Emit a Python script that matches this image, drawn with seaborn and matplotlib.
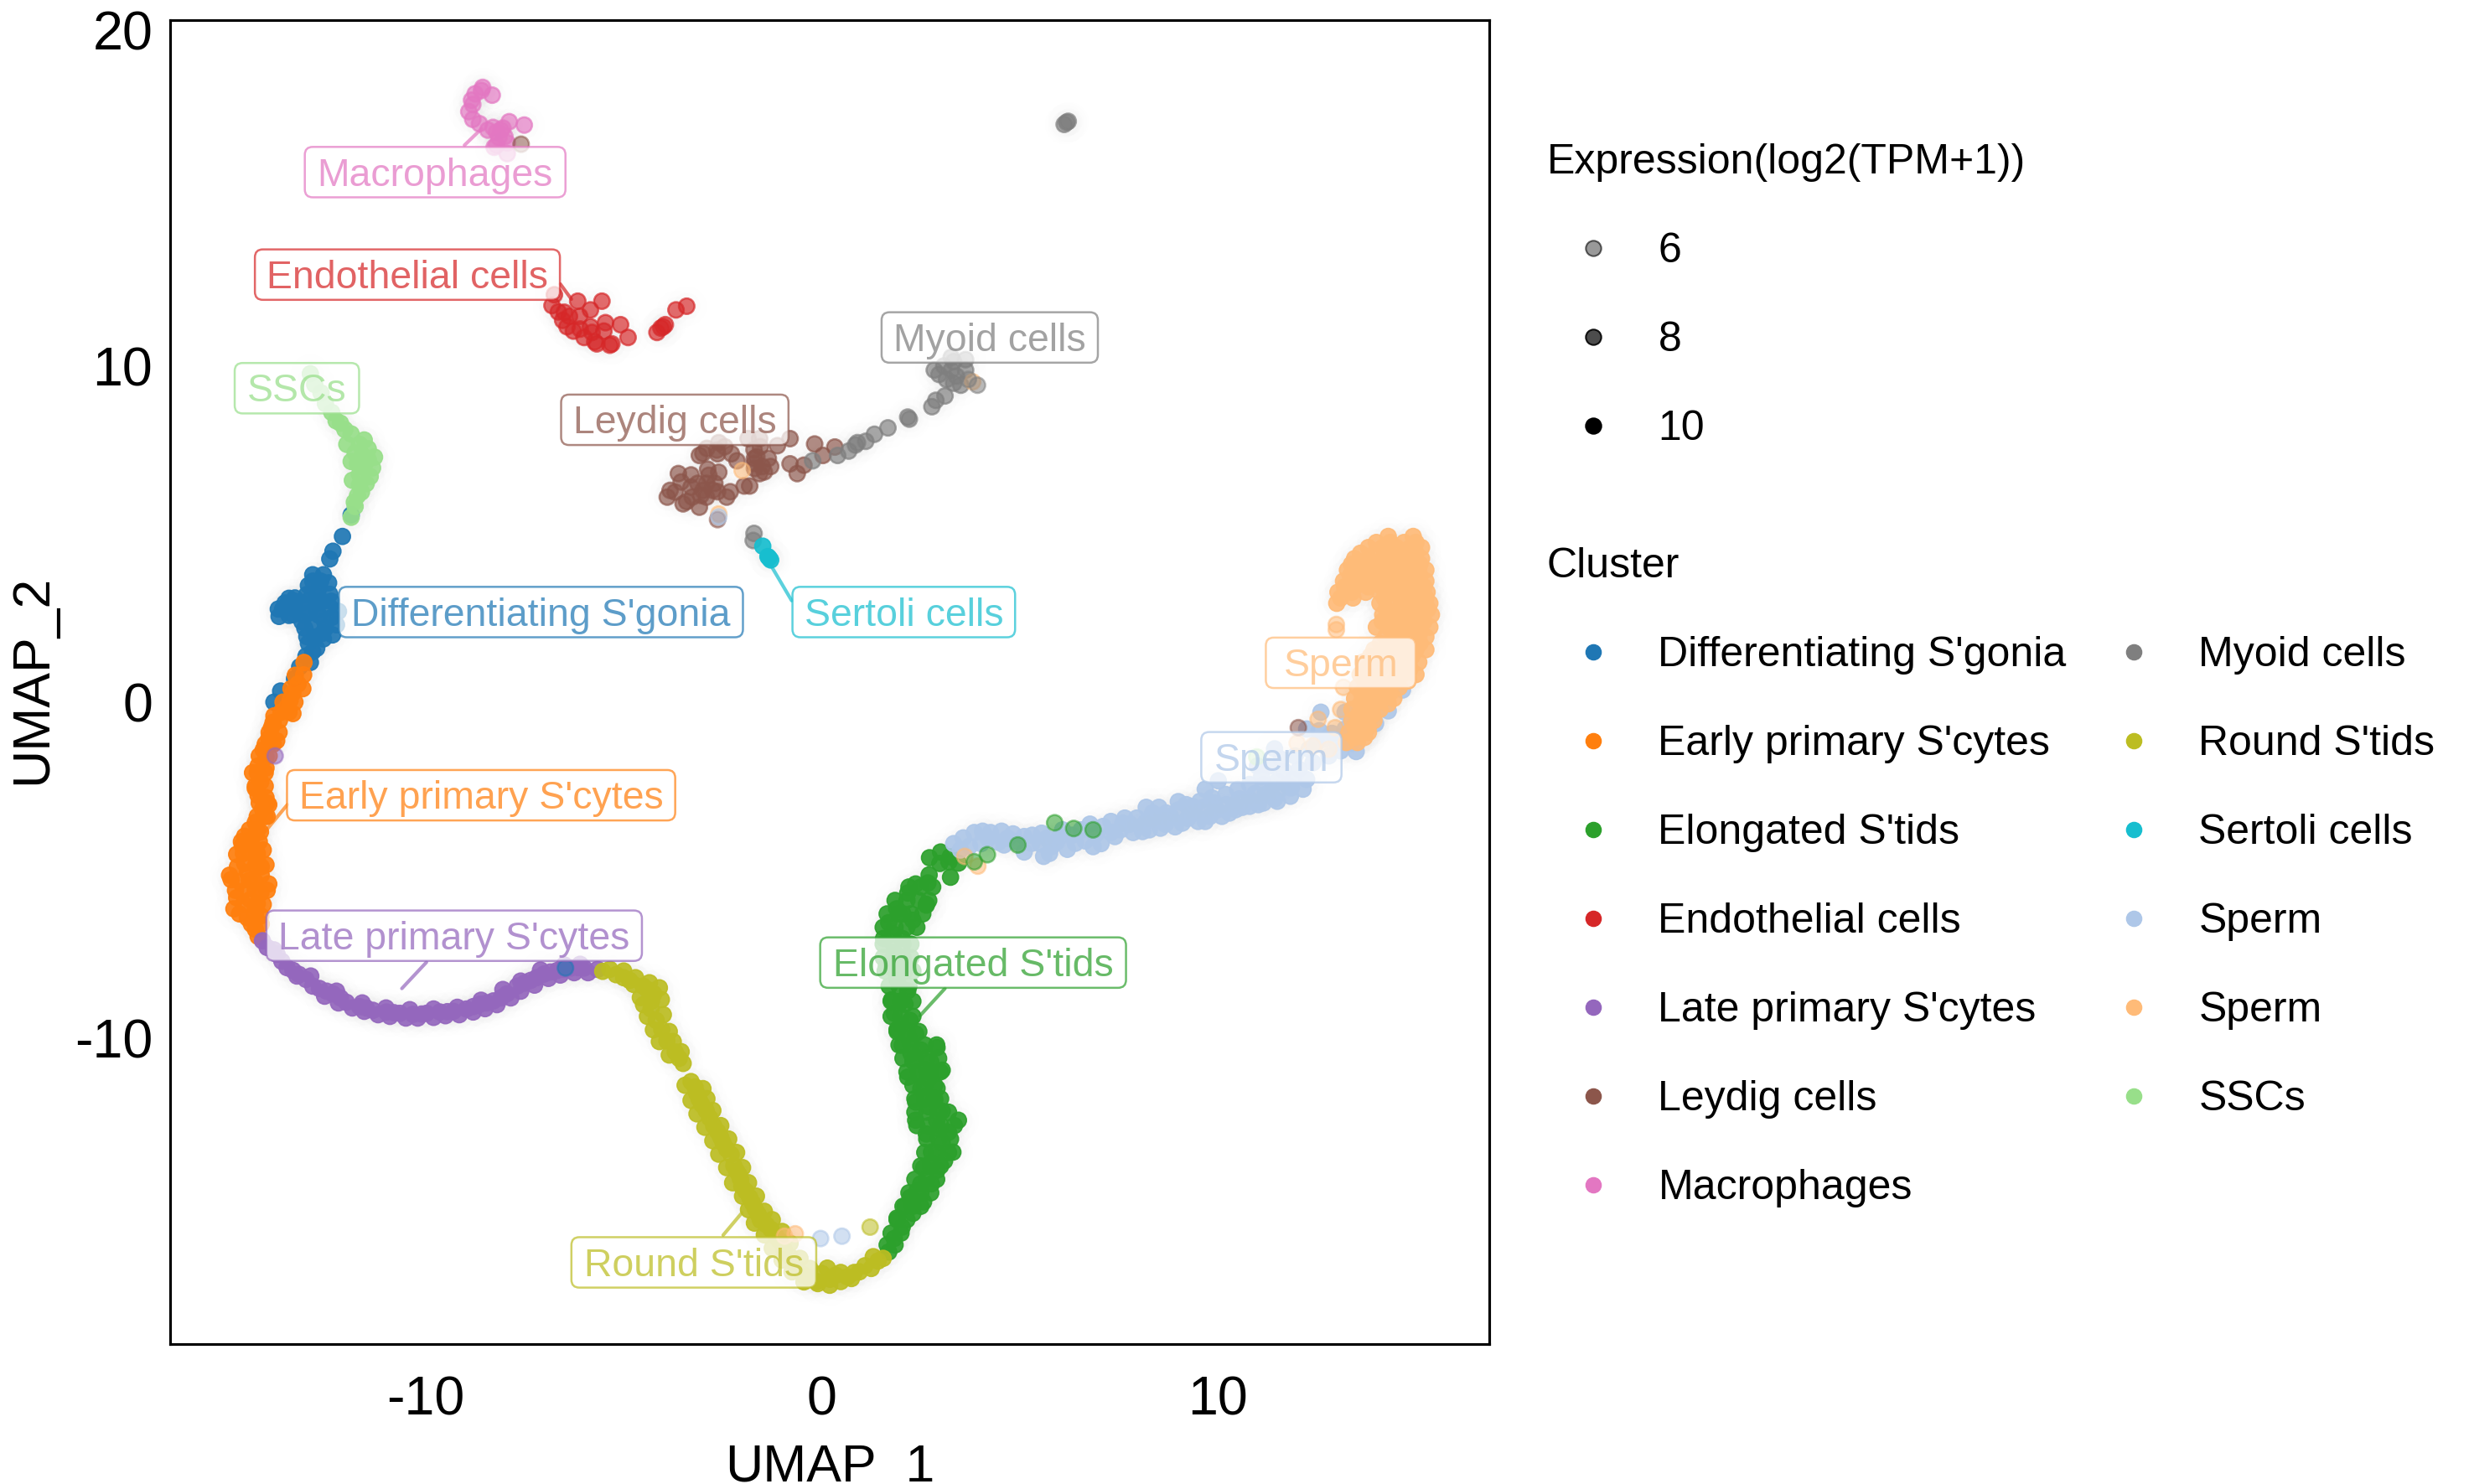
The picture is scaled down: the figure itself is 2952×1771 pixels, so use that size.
import matplotlib
matplotlib.use("Agg")
import matplotlib.pyplot as plt
from matplotlib.lines import Line2D
from matplotlib.patches import FancyBboxPatch
from matplotlib.colors import to_rgba
import pandas as pd
import seaborn as sns

sns.set_theme(style="white")
plt.rcParams['font.family'] = ['Liberation Sans', 'DejaVu Sans']
plt.rcParams['text.color'] = 'black'
plt.rcParams['axes.unicode_minus'] = False

cluster_names = ["Differentiating S'gonia", "Early primary S'cytes", "Elongated S'tids", "Endothelial cells",
                 "Late primary S'cytes", "Leydig cells", "Macrophages", "Myoid cells", "Round S'tids",
                 "Sertoli cells", "Sperm", "Sperm ", "SSCs"]
cluster_colors = ["#1f77b4", "#ff7f0e", "#2ca02c", "#d62728", "#9467bd", "#8c564b", "#e377c2", "#7f7f7f",
                  "#bcbd22", "#17becf", "#aec7e8", "#ffbb78", "#98df8a"]

macrophages = [(-8.56,18.29),(-8.32,18.06),(-8.75,18.10),(-8.81,17.78),(-8.91,17.57),(-8.81,17.34),(-8.64,17.21),
    (-8.43,17.02),(-8.21,16.96),(-8.05,17.08),(-7.89,17.27),(-7.51,17.17),(-8.0,16.83),(-8.21,16.57),(-7.94,16.64),
    (-7.94,16.32),(-8.27,16.51),(-8.1,17.02),(-8.59,18.2),(-8.84,17.91),(-8.15,16.8),(-8.3,17.1)]
endothelial = [(-6.75,12.12),(-6.81,11.80),(-6.65,11.61),(-6.54,11.36),(-6.43,11.17),(-6.27,11.04),(-6.0,10.85),
    (-5.73,10.72),(-5.35,10.62),(-4.89,10.85),(-5.08,11.23),(-5.46,11.29),(-5.5,11.04),(-5.84,11.17),(-6.16,11.93),
    (-5.55,11.93),(-5.84,11.67),(-6.11,11.48),(-6.37,11.48),(-5.68,10.66),(-5.3,10.66),(-4.16,11.0),(-4.06,11.13),
    (-3.95,11.23),(-3.68,11.67),(-3.41,11.78),(-4.0,11.17),(-6.5,11.6),(-6.1,11.1),(-5.8,11.0)]
sscs = [(-12.91,9.77),(-12.8,9.45),(-12.64,9.2),(-12.53,8.88),(-12.37,8.62),(-12.26,8.37),(-12.15,8.30),(-12.04,8.11),
    (-11.88,7.98),(-11.99,7.67),(-11.67,7.67),(-11.45,7.54),(-11.78,7.41),(-11.45,7.22),(-11.72,7.09),(-11.34,6.97),
    (-11.67,6.78),(-11.40,6.71),(-11.67,6.46),(-11.72,6.14),(-11.78,5.82),(-11.88,5.5),(-11.29,7.29),(-11.56,6.97),
    (-11.88,7.16),(-11.6,7.35),(-11.55,7.8),(-11.5,6.5),(-11.85,6.6),(-11.8,5.95),(-11.62,6.25)]
sgonia = [(-11.88,5.57),(-12.1,4.93),(-12.34,4.49),(-12.42,4.26),(-12.85,3.79),(-12.58,3.79),(-12.96,3.47),(-12.69,3.40),
    (-12.42,3.21),(-13.45,3.09),(-13.61,2.77),(-13.29,2.77),(-13.45,2.58),(-13.72,2.77),(-12.96,3.02),(-12.75,2.96),
    (-12.42,2.83),(-12.96,2.64),(-12.69,2.58),(-12.37,2.52),(-13.12,2.39),(-12.85,2.26),(-12.53,2.2),(-12.8,1.94),
    (-12.96,1.75),(-12.58,1.88),(-13.02,1.37),(-12.91,1.18),(-13.18,1.05),(-13.31,0.70),(-13.83,0.0),(-13.66,0.33),
    (-13.15,2.95),(-13.05,2.2),(-12.75,2.75),(-12.55,2.4),(-12.75,3.15),(-12.6,3.0),(-12.75,1.6),(-12.38,3.0),
    (-12.2,2.7),(-12.25,2.3),(-12.85,3.6),(-13.0,3.2),(-13.1,2.6),(-13.3,3.1),(-12.6,2.05),
    (-13.55,2.95),(-13.35,2.6),(-13.7,2.55),(-13.5,2.9),(-13.3,3.0),(-12.35,2.0),(-12.85,1.5),(-13.0,1.95),(-12.45,3.55),(-12.65,3.6)]
early = [(-13.07,1.18),(-13.29,0.80),(-13.08,0.81),(-13.22,0.54),(-13.35,0.27),(-13.42,0.06),(-13.49,-0.14),(-13.35,-0.34),
    (-13.83,-0.41),(-13.69,-0.54),(-13.89,-0.75),(-13.96,-1.08),(-13.76,-1.15),(-14.1,-1.42),(-14.03,-1.63),(-14.23,-1.90),
    (-14.03,-1.96),(-14.37,-2.1),(-14.16,-2.37),(-14.3,-2.57),(-14.23,-2.78),(-14.03,-2.84),(-13.96,-3.05),(-14.12,-3.18),
    (-14.3,-3.58),(-14.17,-3.86),(-14.57,-3.99),(-14.63,-4.26),(-14.77,-4.53),(-14.43,-4.46),(-14.1,-4.40),(-14.03,-4.84),
    (-14.57,-4.80),(-14.3,-4.87),(-14.5,-5.07),(-14.91,-5.28),(-14.7,-5.34),(-14.3,-5.34),(-13.96,-5.41),(-14.5,-5.55),
    (-14.16,-5.68),(-14.77,-5.82),(-14.43,-5.88),(-14.84,-6.15),(-14.1,-6.02),(-14.5,-6.42),(-14.16,-6.36),(-14.3,-6.76),
    (-14.23,-6.97),(-14.4,-4.1),(-14.25,-4.65),(-14.45,-5.3),(-14.3,-6.1),(-14.0,-3.4),
    (-13.4,0.4),(-13.1,0.4),(-13.6,0.0),(-13.3,0.0),(-13.65,-0.3),(-13.45,-0.3),(-13.85,-0.6),(-13.95,-0.9),(-13.7,-0.9),
    (-14.05,-1.25),(-13.85,-1.25),(-14.2,-1.6),(-13.95,-1.6),(-14.25,-2.1),(-14.05,-2.1),(-14.3,-2.5),(-14.05,-2.5),
    (-14.2,-3.0),(-14.0,-3.0),(-14.25,-3.4),(-14.05,-3.4),(-14.45,-3.8),(-14.25,-3.8),(-14.65,-4.15),(-14.4,-4.15),(-14.2,-4.15),
    (-14.6,-4.5),(-14.25,-4.5),(-14.75,-4.9),(-14.15,-4.9),(-14.95,-5.15),(-14.15,-5.15),(-14.8,-5.6),(-14.3,-5.6),(-14.0,-5.6),
    (-14.6,-6.0),(-14.25,-6.0),(-14.7,-6.3),(-14.3,-6.3),(-14.4,-6.6),(-14.15,-6.6)]
late = [(-14.12,-7.10),(-13.83,-7.37),(-13.63,-7.71),(-13.35,-7.98),(-13.02,-8.25),(-12.68,-8.52),(-12.34,-8.68),(-12.0,-8.93),
    (-11.67,-9.06),(-11.33,-9.17),(-10.99,-9.22),(-10.65,-9.26),(-10.32,-9.29),(-9.98,-9.26),(-9.64,-9.22),(-9.3,-9.2),
    (-8.97,-9.13),(-8.63,-8.99),(-8.29,-8.89),(-7.95,-8.68),(-7.69,-8.45),(-7.35,-8.28),(-7.01,-8.09),(-6.67,-7.98),
    (-6.33,-7.91),(-6.0,-7.91),(-5.66,-7.95),(-13.2,-8.1),(-12.5,-8.6),(-12.15,-8.8),(-11.5,-9.1),(-10.8,-9.24),(-10.1,-9.28),
    (-9.45,-9.21),(-8.8,-9.06),(-8.45,-8.95),(-8.1,-8.8),(-7.5,-8.36),(-7.2,-8.2),(-6.85,-8.03),(-6.5,-7.95),(-6.15,-7.9),
    (-14.0,-7.3),(-13.75,-7.5),(-13.5,-7.9),(-13.25,-8.15),(-12.85,-8.45),(-12.55,-8.75),(-12.2,-8.95),(-11.85,-9.1),(-11.55,-9.2),
    (-11.2,-9.3),(-10.9,-9.35),(-10.5,-9.4),(-10.2,-9.4),(-9.8,-9.38),(-9.5,-9.33),(-9.15,-9.3),(-8.8,-9.22),(-8.5,-9.12),(-8.2,-9.0),
    (-7.85,-8.8),(-7.6,-8.6),(-7.25,-8.42),(-6.9,-8.22),(-6.6,-8.12),(-6.25,-8.05),(-5.9,-8.05),(-12.9,-8.15),(-12.25,-8.6),(-11.6,-8.95),
    (-11.0,-9.1),(-10.4,-9.15),(-9.8,-9.13),(-9.2,-9.08),(-8.6,-8.87),(-8.05,-8.55),(-7.6,-8.3),(-7.1,-7.97),(-6.5,-7.82),(-6.1,-7.8)]
leydig = [(-0.8,7.84),(-1.12,7.63),(-1.57,7.84),(-1.86,7.84),(-1.71,7.51),(-1.64,7.3),(-1.5,7.01),(-1.29,7.01),(-1.57,6.8),
    (-2.14,7.18),(-2.28,7.39),(-2.6,7.72),(-2.63,7.39),(-3.09,7.34),(-2.88,6.93),(-3.62,6.8),(-3.3,6.76),(-3.83,6.3),
    (-2.91,6.51),(-2.7,6.51),(-3.13,6.51),(-2.6,6.84),(-3.41,5.97),(-3.27,6.1),(-2.91,6.1),(-2.63,6.26),(-2.31,6.26),
    (-1.96,6.43),(-1.82,6.43),(-3.09,5.8),(-0.8,7.09),(-0.45,7.05),(-0.62,6.8),(-0.18,7.68),(0.03,7.34),(0.33,7.59),
    (-1.55,7.6),(-1.45,6.85),(-1.7,7.1),(-3.5,5.9),(-3.7,6.25),(-3.0,6.3),(-2.85,6.75),(-2.65,7.5),(-3.0,7.4),
    (-3.3,6.4),(-3.05,6.15),(-2.75,6.3),(-2.4,6.1),(-3.55,6.55),(-3.9,6.1),(-1.7,7.25),(-1.35,7.25),(-1.7,6.95),(-2.45,7.6),(-2.9,7.55)]
myoid = [(6.18,17.25),(6.22,17.28),(6.12,17.19),(2.17,8.48),(2.78,8.79),(2.88,8.98),(3.11,9.11),(3.33,9.49),(2.96,9.75),
    (3.27,9.88),(3.63,9.88),(3.33,10.13),(3.08,10.0),(2.84,9.88),(3.51,9.43),(3.27,10.26),(3.63,10.19),(3.15,9.6),(3.4,9.7),
    (-1.71,5.02),(-1.73,4.81),(-0.23,7.18),(0.4,7.34),(0.68,7.47),(0.9,7.72),(0.85,7.65),(1.11,7.76),(1.33,7.97),(1.67,8.16),(2.21,8.42)]
sertoli = [(-1.49,4.64),(-1.33,4.29),(-1.29,4.23),(-1.36,4.33)]
round_st = [(-5.53,-8.01),(-5.19,-8.11),(-4.85,-8.28),(-4.51,-8.45),(-4.24,-8.68),(-4.58,-8.79),(-4.31,-9.13),(-4.18,-9.47),
    (-4.04,-9.74),(-3.91,-10.08),(-3.7,-10.41),(-3.5,-10.75),(-3.3,-11.29),(-3.16,-11.63),(-3.03,-11.97),(-2.83,-12.37),
    (-2.63,-12.78),(-2.49,-13.12),(-2.29,-13.46),(-2.22,-13.79),(-2.09,-14.06),(-2.02,-14.4),(-1.82,-14.74),(-1.68,-15.08),
    (-1.55,-15.41),(-1.28,-15.69),(-1.07,-16.02),(-0.8,-16.5),(-0.47,-17.04),(-0.13,-17.24),(0.21,-17.17),(0.48,-16.97),
    (0.14,-16.84),(0.48,-17.24),(0.82,-16.97),(1.09,-16.77),(1.42,-16.63),(-4.4,-8.55),(-4.3,-8.9),(-3.6,-10.6),(-3.2,-11.45),
    (-3.1,-11.8),(-2.92,-12.15),(-2.73,-12.6),(-2.55,-12.95),(-2.4,-13.3),(-2.15,-13.95),(-2.05,-14.2),(-1.92,-14.55),
    (-1.75,-14.9),(-1.6,-15.25),(-1.4,-15.55),(-1.15,-15.9),(-0.95,-16.3),(-0.65,-16.8),(-0.3,-17.15),(0.65,-17.1),(-4.75,-8.4),(-5.0,-8.2),
    (-5.35,-7.95),(-5.0,-8.0),(-4.7,-8.2),(-4.35,-8.35),(-4.1,-8.5),(-4.05,-8.85),(-4.5,-9.0),(-4.4,-9.35),(-4.0,-9.3),(-4.25,-9.75),
    (-3.85,-9.8),(-4.1,-10.1),(-3.75,-10.1),(-3.85,-10.5),(-3.55,-10.4),(-3.45,-11.4),(-3.0,-11.5),(-3.3,-11.85),(-2.9,-11.8),(-3.15,-12.25),
    (-2.75,-12.15),(-2.95,-12.65),(-2.55,-12.6),(-2.75,-13.05),(-2.35,-13.0),(-2.6,-13.45),(-2.15,-13.4),(-2.4,-13.85),(-2.0,-13.85),
    (-2.25,-14.3),(-1.85,-14.3),(-2.0,-14.7),(-1.65,-14.7),(-1.85,-15.1),(-1.45,-15.15),(-1.7,-15.5),(-1.25,-15.4),(-1.45,-15.85),(-1.0,-15.75),
    (-1.25,-16.25),(-0.8,-16.1),(-1.0,-16.6),(-0.55,-16.55),(-0.75,-16.95),(-0.3,-16.85),(-0.45,-17.25),(0.0,-17.0),(0.2,-17.35),(0.35,-17.05),
    (0.75,-17.15),(0.95,-16.95),(1.25,-16.85),(1.3,-16.5),(1.55,-16.55),(-0.1,-17.3)]
elongated = [(1.69,-16.36),(1.83,-15.96),(2.03,-15.62),(2.30,-15.21),(2.57,-14.87),(1.9,-15.35),(2.23,-14.74),(2.77,-14.33),
    (2.5,-14.33),(2.91,-13.93),(2.57,-13.86),(3.31,-13.39),(2.77,-13.39),(3.04,-13.12),(3.45,-12.44),(2.97,-12.71),(2.64,-12.85),
    (2.37,-12.44),(3.04,-12.17),(2.7,-12.04),(2.37,-11.9),(2.91,-11.49),(2.5,-11.49),(2.17,-11.16),(3.04,-10.95),(2.64,-10.95),
    (2.3,-10.68),(2.91,-10.28),(2.5,-10.35),(2.03,-10.21),(2.37,-9.87),(1.9,-9.74),(2.23,-9.47),(1.83,-9.26),(2.1,-8.99),(1.76,-8.86),
    (2.17,-8.59),(1.9,-8.25),(1.63,-7.85),(2.1,-7.85),(1.83,-7.44),(1.56,-7.03),(2.03,-7.03),(1.69,-6.56),(2.3,-6.49),(1.89,-6.15),
    (2.64,-6.02),(2.17,-5.68),(2.37,-5.41),(2.71,-5.14),(2.98,-4.80),(3.24,-4.60),(3.21,-4.75),(3.0,-4.46),(2.72,-4.63),(3.25,-5.21),
    (3.45,-4.79),(2.68,-5.38),(2.64,-6.04),(2.75,-13.7),(2.9,-12.45),(3.2,-12.8),(2.6,-11.75),(2.7,-11.2),(2.75,-10.7),(2.2,-10.0),
    (2.1,-15.0),(2.4,-14.55),(1.8,-6.9),(2.05,-6.3),(1.8,-7.9),(2.0,-8.9),(2.0,-9.6),(2.25,-10.45),(2.45,-11.1),(2.85,-11.85),(3.1,-13.65),
    (1.85,-5.9),(2.15,-5.9),(2.45,-5.9),(2.7,-5.9),(1.65,-6.3),(1.95,-6.3),(2.25,-6.3),(2.55,-6.3),(1.55,-6.7),(1.85,-6.7),(2.15,-6.7),(2.4,-6.7),
    (1.55,-7.2),(1.8,-7.2),(2.05,-7.2),(2.25,-7.2),(1.55,-7.6),(1.8,-7.6),(2.05,-7.6),(2.25,-7.6),(1.6,-8.0),(1.85,-8.0),(2.1,-8.0),(2.3,-8.0),
    (1.7,-8.45),(1.95,-8.45),(2.2,-8.45),(1.75,-8.9),(2.0,-8.9),(2.3,-8.9),(1.75,-9.35),(2.0,-9.35),(2.3,-9.35),(1.9,-9.8),(2.15,-9.8),(2.45,-9.8),
    (1.95,-10.2),(2.25,-10.2),(2.6,-10.2),(2.9,-10.2),(2.05,-10.6),(2.35,-10.6),(2.65,-10.6),(2.95,-10.6),(2.15,-11.0),(2.45,-11.0),(2.75,-11.0),(3.0,-11.0),
    (2.3,-11.4),(2.6,-11.4),(2.85,-11.4),(2.35,-11.8),(2.6,-11.8),(2.85,-11.8),(3.0,-11.8),(2.35,-12.2),(2.65,-12.2),(2.95,-12.2),(3.2,-12.2),
    (2.4,-12.6),(2.7,-12.6),(3.0,-12.6),(3.35,-12.6),(2.65,-13.0),(2.95,-13.0),(3.25,-13.0),(2.6,-13.4),(2.9,-13.4),(3.2,-13.4),(2.5,-13.8),(2.75,-13.8),(3.0,-13.8),
    (2.35,-14.2),(2.65,-14.2),(2.9,-14.2),(2.2,-14.6),(2.5,-14.6),(2.75,-14.6),(2.05,-15.0),(2.3,-15.0),(2.5,-15.0),(1.9,-15.4),(2.15,-15.4),(1.75,-15.8),(2.0,-15.8),
    (1.65,-16.15),(1.85,-16.15),(2.2,-5.5),(2.5,-5.5),(2.8,-5.5)]
sperm_blue = [(3.33,-4.21),(3.57,-4.04),(3.85,-3.88),(3.73,-4.29),(4.06,-3.84),(4.26,-3.88),(4.02,-4.21),(4.46,-4.17),(4.54,-3.84),
    (4.83,-3.92),(5.11,-4.0),(5.11,-4.46),(5.6,-4.59),(5.31,-3.96),(5.68,-4.05),(5.51,-4.21),(5.92,-4.17),(6.2,-4.38),(6.08,-3.8),
    (6.32,-3.96),(6.77,-3.63),(6.65,-4.13),(7.05,-4.21),(7.3,-3.55),(7.3,-3.88),(7.54,-3.8),(7.78,-3.63),(7.86,-3.88),(8.19,-3.13),
    (8.19,-3.55),(8.51,-3.13),(8.43,-3.46),(8.27,-3.8),(8.67,-3.63),(8.92,-3.71),(9.0,-2.96),(9.0,-3.21),(9.24,-3.46),(9.4,-3.3),
    (9.68,-3.55),(9.68,-2.59),(10.01,-2.34),(9.64,-3.13),(9.97,-3.21),(10.21,-3.05),(10.29,-3.3),(10.54,-2.88),(10.62,-3.13),
    (10.94,-2.72),(11.02,-3.05),(11.34,-2.63),(11.43,-2.88),(11.83,-2.8),(11.75,-2.47),(12.15,-2.59),(12.24,-2.3),(11.43,-1.39),
    (11.67,-2.05),(11.1,-2.22),(12.24,-0.8),(12.56,-0.85),(12.6,-0.3),(12.88,-0.93),(13.21,-0.8),(13.21,-0.3),(13.49,-1.47),
    (13.37,-1.22),(13.98,-0.64),(14.3,-0.26),(14.66,0.36),(6.9,-3.95),(7.6,-3.6),(8.05,-3.7),(8.7,-3.3),(9.35,-3.1),(9.9,-3.0),
    (10.4,-3.05),(10.8,-2.9),(11.2,-2.75),(11.55,-2.6),(11.9,-2.3),(12.05,-2.0),(12.4,-1.8),(12.8,-1.6),(13.1,-1.45),(5.8,-4.3),(4.7,-4.05),
    (3.5,-4.4),(4.2,-4.05),(4.6,-4.25),(4.9,-4.15),(5.3,-4.2),(5.55,-3.9),(5.75,-4.5),(6.0,-4.0),(6.4,-4.2),(6.55,-3.8),(6.85,-4.3),(7.1,-3.7),
    (7.4,-4.0),(7.65,-3.45),(7.95,-3.45),(8.1,-3.85),(8.35,-3.3),(8.55,-3.75),(8.8,-3.4),(9.1,-3.6),(9.2,-3.05),(9.5,-3.55),(9.55,-2.95),(9.8,-3.4),
    (9.85,-2.85),(10.1,-3.4),(10.2,-2.75),(10.45,-3.2),(10.5,-2.6),(10.8,-3.1),(10.8,-2.45),(11.15,-3.0),(11.15,-2.45),(11.5,-2.95),(11.5,-2.35),
    (11.85,-2.55),(11.0,-1.9),(11.3,-1.9),(11.6,-1.7),(11.95,-1.6),(12.3,-1.4),(12.5,-1.2),(12.7,-1.1),(13.0,-1.2),(13.2,-1.0),(13.6,-0.95),(13.75,-0.8),(13.5,-0.9)]
sperm_orange = [(14.3,4.93),(14.93,4.93),(13.8,4.6),(14.16,4.6),(14.51,4.6),(14.86,4.6),(15.14,4.6),(13.45,4.27),(13.8,4.27),(14.16,4.27),
    (14.51,4.27),(14.86,4.27),(15.14,4.27),(13.27,3.93),(13.59,3.93),(13.94,3.93),(14.3,3.93),(14.65,3.93),(15.0,3.93),(15.25,3.93),
    (13.17,3.6),(13.52,3.6),(13.87,3.6),(14.23,3.6),(14.58,3.6),(14.93,3.6),(15.25,3.6),(13.03,3.27),(13.38,3.27),(13.73,3.27),(14.09,3.27),
    (14.44,3.27),(14.79,3.27),(15.14,3.27),(15.28,3.27),(13.0,2.94),(13.41,3.1),(14.09,2.94),(14.44,2.94),(14.79,2.94),(15.14,2.94),(15.35,2.94),
    (14.16,2.6),(14.44,2.6),(14.79,2.6),(15.14,2.6),(15.39,2.6),(14.0,2.23),(14.3,2.23),(14.65,2.23),(15.0,2.23),(15.35,2.23),(14.23,1.94),
    (14.58,1.94),(14.93,1.94),(15.25,1.94),(13.94,1.56),(14.3,1.56),(14.65,1.56),(15.0,1.56),(15.25,1.56),(13.66,1.19),(14.0,1.19),(14.37,1.19),
    (14.72,1.19),(15.07,1.19),(13.59,0.82),(13.94,0.82),(14.3,0.82),(14.65,0.82),(15.0,0.82),(13.52,0.44),(13.87,0.44),(14.23,0.44),(14.58,0.44),
    (13.45,0.11),(13.8,0.11),(14.16,0.11),(14.44,0.11),(13.38,-0.22),(13.73,-0.22),(14.09,-0.22),(13.38,-0.55),(13.66,-0.55),(13.94,-0.55),
    (13.31,-0.9),(13.59,-0.9),(13.8,-0.9),(13.24,-1.2),(13.52,-1.2),
    (14.0,4.75),(14.35,4.75),(14.7,4.75),(15.0,4.75),(13.6,4.43),(13.97,4.43),(14.33,4.43),(14.7,4.43),(15.0,4.43),(13.37,4.1),(13.7,4.1),(14.05,4.1),
    (14.4,4.1),(14.75,4.1),(15.1,4.1),(13.35,3.77),(13.7,3.77),(14.05,3.77),(14.4,3.77),(14.75,3.77),(15.1,3.77),(13.2,3.43),(13.45,3.43),(13.8,3.43),
    (14.15,3.43),(14.5,3.43),(14.85,3.43),(15.2,3.43),(13.1,3.1),(14.2,3.1),(14.6,3.1),(14.95,3.1),(15.25,3.1),(14.25,2.77),(14.6,2.77),(14.95,2.77),(15.3,2.77),
    (14.15,2.4),(14.5,2.4),(14.85,2.4),(15.2,2.4),(14.4,2.08),(14.75,2.08),(15.1,2.08),(14.1,1.75),(14.45,1.75),(14.8,1.75),(15.1,1.75),(13.85,1.37),(14.2,1.37),
    (14.55,1.37),(14.9,1.37),(13.77,1.0),(14.1,1.0),(14.5,1.0),(14.85,1.0),(13.7,0.63),(14.05,0.63),(14.45,0.63),(14.8,0.63),(13.62,0.28),(14.0,0.28),(14.35,0.28),
    (13.6,-0.05),(13.95,-0.05),(14.3,-0.05),(13.55,-0.38),(13.9,-0.38),(13.45,-0.72),(13.8,-0.72),(13.45,-1.05),(13.7,-1.05)]

stray_cluster = ["Sperm ","Sperm ","Sperm ","Sperm ","Sperm ","Sperm ","Sperm ","Sperm ","Sperm ","Sperm ","Sperm ","Sperm ",
                 "Sperm ","Sperm ","Sperm ","Sperm ","Leydig cells","Leydig cells","Leydig cells","SSCs","Sperm","Sperm","Sperm",
                 "Late primary S'cytes","Differentiating S'gonia","Round S'tids","Elongated S'tids","Elongated S'tids",
                 "Elongated S'tids","Elongated S'tids","Elongated S'tids","Elongated S'tids","Myoid cells","Myoid cells"]
stray_x = [12.99,12.99,13.1,12.53,12.96,13.17,-2.01,-2.6,3.81,3.61,3.94,-0.67,-0.94,12.0,12.4,12.8,-7.59,12.03,-2.63,10.98,-2.6,-0.03,0.51,
           -13.8,-6.47,1.22,5.88,6.36,6.85,4.95,4.18,3.85,3.93,3.7]
stray_y = [2.31,2.15,-0.22,-0.51,-0.76,0.44,6.89,5.6,9.53,-4.59,-4.88,-15.82,-15.89,-1.22,-1.3,-1.4,16.6,-0.76,5.43,-1.63,5.51,-15.96,-15.89,
           -1.6,-7.91,-15.62,-3.59,-3.76,-3.8,-4.25,-4.54,-4.75,9.43,9.6]

label_names = ["Macrophages", "Endothelial cells", "SSCs", "Leydig cells", "Myoid cells", "Differentiating S'gonia", "Sertoli cells",
               "Sperm ", "Sperm", "Early primary S'cytes", "Late primary S'cytes", "Elongated S'tids", "Round S'tids"]
label_x = [-9.76, -10.46, -13.25, -3.71, 4.24, -7.09, 2.07, 13.1, 11.35, -8.6, -9.28, 3.82, -3.23]
label_y = [15.77, 12.72, 9.34, 8.4, 10.85, 2.68, 2.68, 1.17, -1.64, -2.77, -6.95, -7.75, -16.67]
label_hw = [3.29, 3.85, 1.57, 2.87, 2.73, 5.1, 2.81, 1.89, 1.77, 4.9, 4.74, 3.86, 3.09]

seg_names = ["Macrophages", "Endothelial cells", "Sertoli cells", "Early primary S'cytes", "Late primary S'cytes", "Elongated S'tids", "Round S'tids"]
seg_x0 = [-9.02, -6.6, -1.3, -13.49, -9.98, 3.11, -2.02]
seg_y0 = [16.57, 12.44, 4.1, -3.05, -7.74, -8.52, -15.2]
seg_x1 = [-8.59, -6.32, -0.76, -14.1, -10.6, 2.48, -2.49]
seg_y1 = [17.06, 11.99, 3.02, -3.92, -8.52, -9.33, -15.86]

expr_levels = ["6", "8", "10"]
expr_alpha = [0.4, 0.7, 1.0]
dense_clusters = ["Differentiating S'gonia", "Early primary S'cytes", "Elongated S'tids", "Late primary S'cytes",
                  "Round S'tids", "Sperm", "Sperm ", "SSCs", "Sertoli cells"]

groups = {"Differentiating S'gonia": sgonia, "Early primary S'cytes": early, "Elongated S'tids": elongated,
          "Endothelial cells": endothelial, "Late primary S'cytes": late, "Leydig cells": leydig, "Macrophages": macrophages,
          "Myoid cells": myoid, "Round S'tids": round_st, "Sertoli cells": sertoli, "Sperm": sperm_blue, "Sperm ": sperm_orange, "SSCs": sscs}
rows = [(k, x, y) for k, pts in groups.items() for x, y in pts]
df = pd.DataFrame(rows, columns=["cluster", "UMAP_1", "UMAP_2"])
strays = pd.DataFrame({"cluster": stray_cluster, "UMAP_1": stray_x, "UMAP_2": stray_y})
palette = dict(zip(cluster_names, cluster_colors))
is_dense = df["cluster"].isin(dense_clusters)

W, H = 2952, 1771
fig = plt.figure(figsize=(W/300, H/300), dpi=300, facecolor="white")
ax = fig.add_axes([203/W, 1-1604/H, (1777-203)/W, (1604-24.5)/H])

sns.scatterplot(data=df, x="UMAP_1", y="UMAP_2", color="#808080", s=130, alpha=0.009, linewidth=0, legend=False, ax=ax, zorder=1)
sns.scatterplot(data=df, x="UMAP_1", y="UMAP_2", color="#808080", s=60, alpha=0.012, linewidth=0, legend=False, ax=ax, zorder=1)
sns.scatterplot(data=df[~is_dense], x="UMAP_1", y="UMAP_2", hue="cluster", hue_order=cluster_names, palette=palette,
                s=20, alpha=0.68, edgecolor="face", linewidth=0.6, legend=False, ax=ax, zorder=2)
sns.scatterplot(data=df[is_dense], x="UMAP_1", y="UMAP_2", hue="cluster", hue_order=cluster_names, palette=palette,
                s=21, alpha=0.92, edgecolor="face", linewidth=0.4, legend=False, ax=ax, zorder=2.1)
sns.scatterplot(data=strays, x="UMAP_1", y="UMAP_2", hue="cluster", hue_order=cluster_names, palette=palette,
                s=20, alpha=0.55, edgecolor="face", linewidth=0.6, legend=False, ax=ax, zorder=2.2)

ax.set_xlim(-16.45, 16.85)
ax.set_ylim(-19.1, 20.28)
ax.set_xticks([-10, 0, 10])
ax.set_yticks([-10, 0, 10, 20])
ax.grid(False)
ax.tick_params(axis="both", length=0, labelsize=15.5, labelcolor="black")
ax.tick_params(axis="x", pad=9)
ax.tick_params(axis="y", pad=5)
ax.set_xlabel("")
ax.set_ylabel("")
for s in ax.spines.values():
    s.set_visible(True)
    s.set_color("black")
    s.set_linewidth(0.75)

for name, x0, y0, x1, y1 in zip(seg_names, seg_x0, seg_y0, seg_x1, seg_y1):
    ax.plot([x0, x1], [y0, y1], color=palette[name], alpha=0.7, lw=1.0, zorder=2.5, solid_capstyle="round")

for name, x, y, hw in zip(label_names, label_x, label_y, label_hw):
    c = palette[name]
    box = FancyBboxPatch((x-hw, y-0.75), 2*hw, 1.5, boxstyle="round,pad=0,rounding_size=0.2", mutation_aspect=47.26/40.1,
                         facecolor=(1, 1, 1, 0.75), edgecolor=to_rgba(c, 0.7), linewidth=0.6, zorder=3)
    ax.add_patch(box)
    ax.text(x, y+0.02, name.strip(), color=to_rgba(c, 0.72), fontsize=11.15, ha="center", va="center_baseline", zorder=4)

fig.text(990/W, (H-1768)/H, "UMAP_1", fontsize=15, ha="center", va="baseline", color="black")
fig.text(39/W, 1-811/H, "UMAP_2", fontsize=15, ha="center", va="center", rotation=90, rotation_mode="anchor", color="black")

expr_handles = [Line2D([], [], ls="", marker="o", ms=4.4, markerfacecolor=(0, 0, 0, a), markeredgecolor=(0, 0, 0, min(1, a+0.2)), markeredgewidth=0.5)
                for a in expr_alpha]
leg1 = fig.legend(expr_handles, expr_levels, title="Expression(log2(TPM+1))", loc="upper left",
                  bbox_to_anchor=(1846/W, 1-171/H), bbox_transform=fig.transFigure, frameon=False, fontsize=12, title_fontsize=12,
                  labelspacing=1.2, handletextpad=0.45, handlelength=2.2, borderpad=0, borderaxespad=0, alignment="left")
clust_handles = [Line2D([], [], ls="", marker="o", ms=4.4, markerfacecolor=c, markeredgecolor=c, markeredgewidth=0.3) for c in cluster_colors]
leg2 = fig.legend(clust_handles, [n.strip() for n in cluster_names], title="Cluster", loc="upper left", ncol=2,
                  bbox_to_anchor=(1846/W, 1-653/H), bbox_transform=fig.transFigure, frameon=False, fontsize=12, title_fontsize=12,
                  labelspacing=1.2, handletextpad=0.45, handlelength=2.2, borderpad=0, borderaxespad=0, columnspacing=0.5, alignment="left")

fig.savefig("out.png", dpi=300, facecolor="white")
